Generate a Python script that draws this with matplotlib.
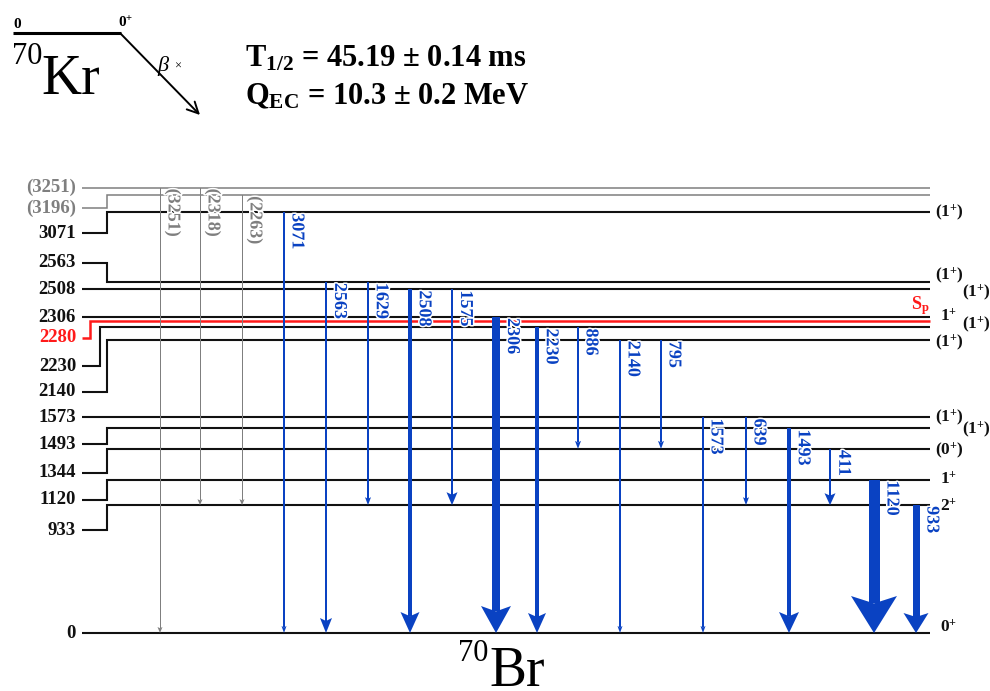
import matplotlib
matplotlib.use('Agg')
import matplotlib.pyplot as plt
import matplotlib.patheffects as pe

plt.rcParams['font.family'] = ['Liberation Serif', 'DejaVu Serif']
plt.rcParams['mathtext.fontset'] = 'custom'
plt.rcParams['mathtext.rm'] = 'Liberation Serif'
plt.rcParams['mathtext.bf'] = 'Liberation Serif:bold'
plt.rcParams['mathtext.it'] = 'Liberation Serif:italic'

# ---------------- data ----------------
level_energies = [3251, 3196, 3071, 2563, 2508, 2306, 2280, 2230, 2140,
                  1573, 1493, 1344, 1120, 933, 0]
level_labels = ["(3251)", "(3196)", "3071", "2563", "2508", "2306", "2280",
                "2230", "2140", "1573", "1493", "1344", "1120", "933", "0"]
level_spins = ["", "", "(1+)", "(1+)", "(1+)", "1+", "", "(1+)", "(1+)",
               "(1+)", "(1+)", "(0+)", "1+", "2+", "0+"]
level_kind = ["tentative", "tentative", "level", "level", "level", "level",
              "sp", "level", "level", "level", "level", "level", "level",
              "level", "level"]

gamma_labels = ["(3251)", "(2318)", "(2263)", "3071", "2563", "1629", "2508",
                "1575", "2306", "2230", "886", "2140", "795", "1573", "639",
                "1493", "411", "1120", "933"]
gamma_from = [3251, 3251, 3196, 3071, 2563, 2563, 2508, 2508, 2306, 2230,
              2230, 2140, 2140, 1573, 1573, 1493, 1344, 1120, 933]
gamma_to = [0, 933, 933, 0, 0, 933, 0, 933, 0, 0, 1344, 0, 1344, 0, 933,
            0, 933, 0, 0]
gamma_tentative = [True, True, True] + [False] * 16

half_life = "45.19 ± 0.14 ms"
q_ec = "10.3 ± 0.2 MeV"

# ---------------- layout / style ----------------
PX_PER_KEV = 0.137
KPX = 1.0 / PX_PER_KEV          # keV per pixel (vertical)
Y0_PX = 633.0                    # pixel row of the ground state


def E(py):
    """pixel row -> energy axis coordinate (for decorative items)"""
    return (Y0_PX - py) * KPX


label_dy_px = [0, 13, 21, -19, 0, 0, 17, 39, 52, 0, 16, 24, 20, 25, 0]
bend_x = [None, 107, 107, 107, None, None, 90, 100, 107, None, 107, 107,
          107, 107, None]
spin_x = [949, 949, 949, 949, 976, 949, 949, 976, 949, 949, 976, 949, 949,
          949, 949]
spin_dy_px = [0, 0, 0, -7, 3, 0, 0, -3, 2, 0, 1, 1, 0, 2, -5]

gamma_x = [160, 200, 242, 284, 326, 368, 410, 452, 496, 537, 578, 620, 661,
           703, 746, 789, 830, 874, 916]
shaft_px = [1, 1, 1, 1.2, 2.2, 1.5, 3.5, 2.2, 8, 3.5, 1.2, 1.2, 1.2, 1.2,
            1.2, 3.5, 2.5, 11, 7]
head_w_px = [5, 5, 5, 5, 12, 6, 19, 11, 30, 18, 6, 5, 6, 5, 6, 20, 11, 46, 25]
head_l_px = [6, 6, 6, 7, 15, 8, 21, 13, 27, 20, 8, 7, 8, 7, 8, 21, 12, 37, 20]

BLUE = '#0a42c2'
GRAY = '#7f7f7f'
RED = '#ff1a1a'
BLACK = '#111111'
X_LEFT, X_RIGHT = 82, 930

fig = plt.figure(figsize=(9.9, 6.91), dpi=100)
ax = fig.add_axes([0, 0, 1, 1])
ax.set_xlim(0, 990)
ax.set_ylim(E(691), E(0))
ax.axis('off')


def spin_tex(s):
    return s.replace("+", r"$^{\mathbf{+}}$")


# ---------------- levels ----------------
for en, lab, sp, kind, dy, bx, sx, sdy in zip(level_energies, level_labels,
                                              level_spins, level_kind,
                                              label_dy_px, bend_x, spin_x,
                                              spin_dy_px):
    if kind == 'tentative':
        col, lw = GRAY, 1.1
    elif kind == 'sp':
        col, lw = RED, 1.8
    else:
        col, lw = BLACK, 1.5
    ly = en - dy * KPX
    if bx is None:
        ax.plot([X_LEFT, X_RIGHT], [en, en], color=col, lw=lw,
                solid_capstyle='butt', zorder=2)
    else:
        ax.plot([X_LEFT, bx, bx, X_RIGHT], [ly, ly, en, en], color=col,
                lw=lw, solid_capstyle='butt', solid_joinstyle='miter',
                zorder=2)
    ax.text(76, ly, lab, ha='right', va='center', fontsize=13.5,
            fontweight='bold', color=col)
    if sp:
        ax.text(sx, en - sdy * KPX, spin_tex(sp), ha='center', va='center',
                fontsize=12.5, fontweight='bold', color=BLACK)
    if kind == 'sp':
        ax.text(X_RIGHT, en + 15 * KPX, r"S$_{\mathbf{p}}$", ha='right',
                va='center', fontsize=13, fontweight='bold', color=RED)

# ---------------- gamma transitions ----------------
halo = [pe.withStroke(linewidth=2.2, foreground='white')]
for lab, ef, et, tent, x, sw, hw, hl in zip(gamma_labels, gamma_from,
                                            gamma_to, gamma_tentative,
                                            gamma_x, shaft_px, head_w_px,
                                            head_l_px):
    col = GRAY if tent else BLUE
    tip = et
    base = tip + hl * KPX
    notch = tip + 0.8 * hl * KPX
    ax.fill_between([x - sw / 2, x + sw / 2], [notch, notch], [ef, ef],
                    color=col, lw=0, zorder=3)
    ax.fill([x, x + hw / 2, x, x - hw / 2], [tip, base, notch, base],
            color=col, lw=0, zorder=3)
    ax.text(x + sw / 2 + 4, ef - 1 * KPX, lab, rotation=270, ha='left',
            va='top', fontsize=13, fontweight='bold', color=col,
            path_effects=halo, zorder=4)

# ---------------- parent and header ----------------
ax.plot([13, 121], [E(33), E(33)], color='k', lw=2.2, solid_capstyle='butt')
ax.annotate('', xy=(200, E(115)), xytext=(120, E(33)),
            arrowprops=dict(arrowstyle='->', lw=1.4, color='k',
                            mutation_scale=20, shrinkA=0, shrinkB=0))
ax.text(13, E(28), "0", ha='left', va='baseline', fontsize=11,
        fontweight='bold')
ax.text(118, E(28), r"0$^{\mathbf{+}}$", ha='left', va='baseline',
        fontsize=11, fontweight='bold')
ax.text(157, E(71), "β", ha='left', va='baseline', fontsize=16,
        style='italic')
ax.text(174, E(70), "×", ha='left', va='baseline', fontsize=9)
ax.text(12, E(64), "70", ha='left', va='baseline', fontsize=22)
ax.text(41, E(94), "Kr", ha='left', va='baseline', fontsize=40)

ax.text(245, E(67), r"T$_{\mathbf{1/2}}$ = " + half_life, ha='left',
        va='baseline', fontsize=22, fontweight='bold')
ax.text(245, E(104), r"Q$_{\mathbf{EC}}$ = " + q_ec, ha='left',
        va='baseline', fontsize=22, fontweight='bold')

ax.text(458, E(661), "70", ha='left', va='baseline', fontsize=22)
ax.text(489, E(686), "Br", ha='left', va='baseline', fontsize=40)

fig.savefig('out.png', dpi=100)
